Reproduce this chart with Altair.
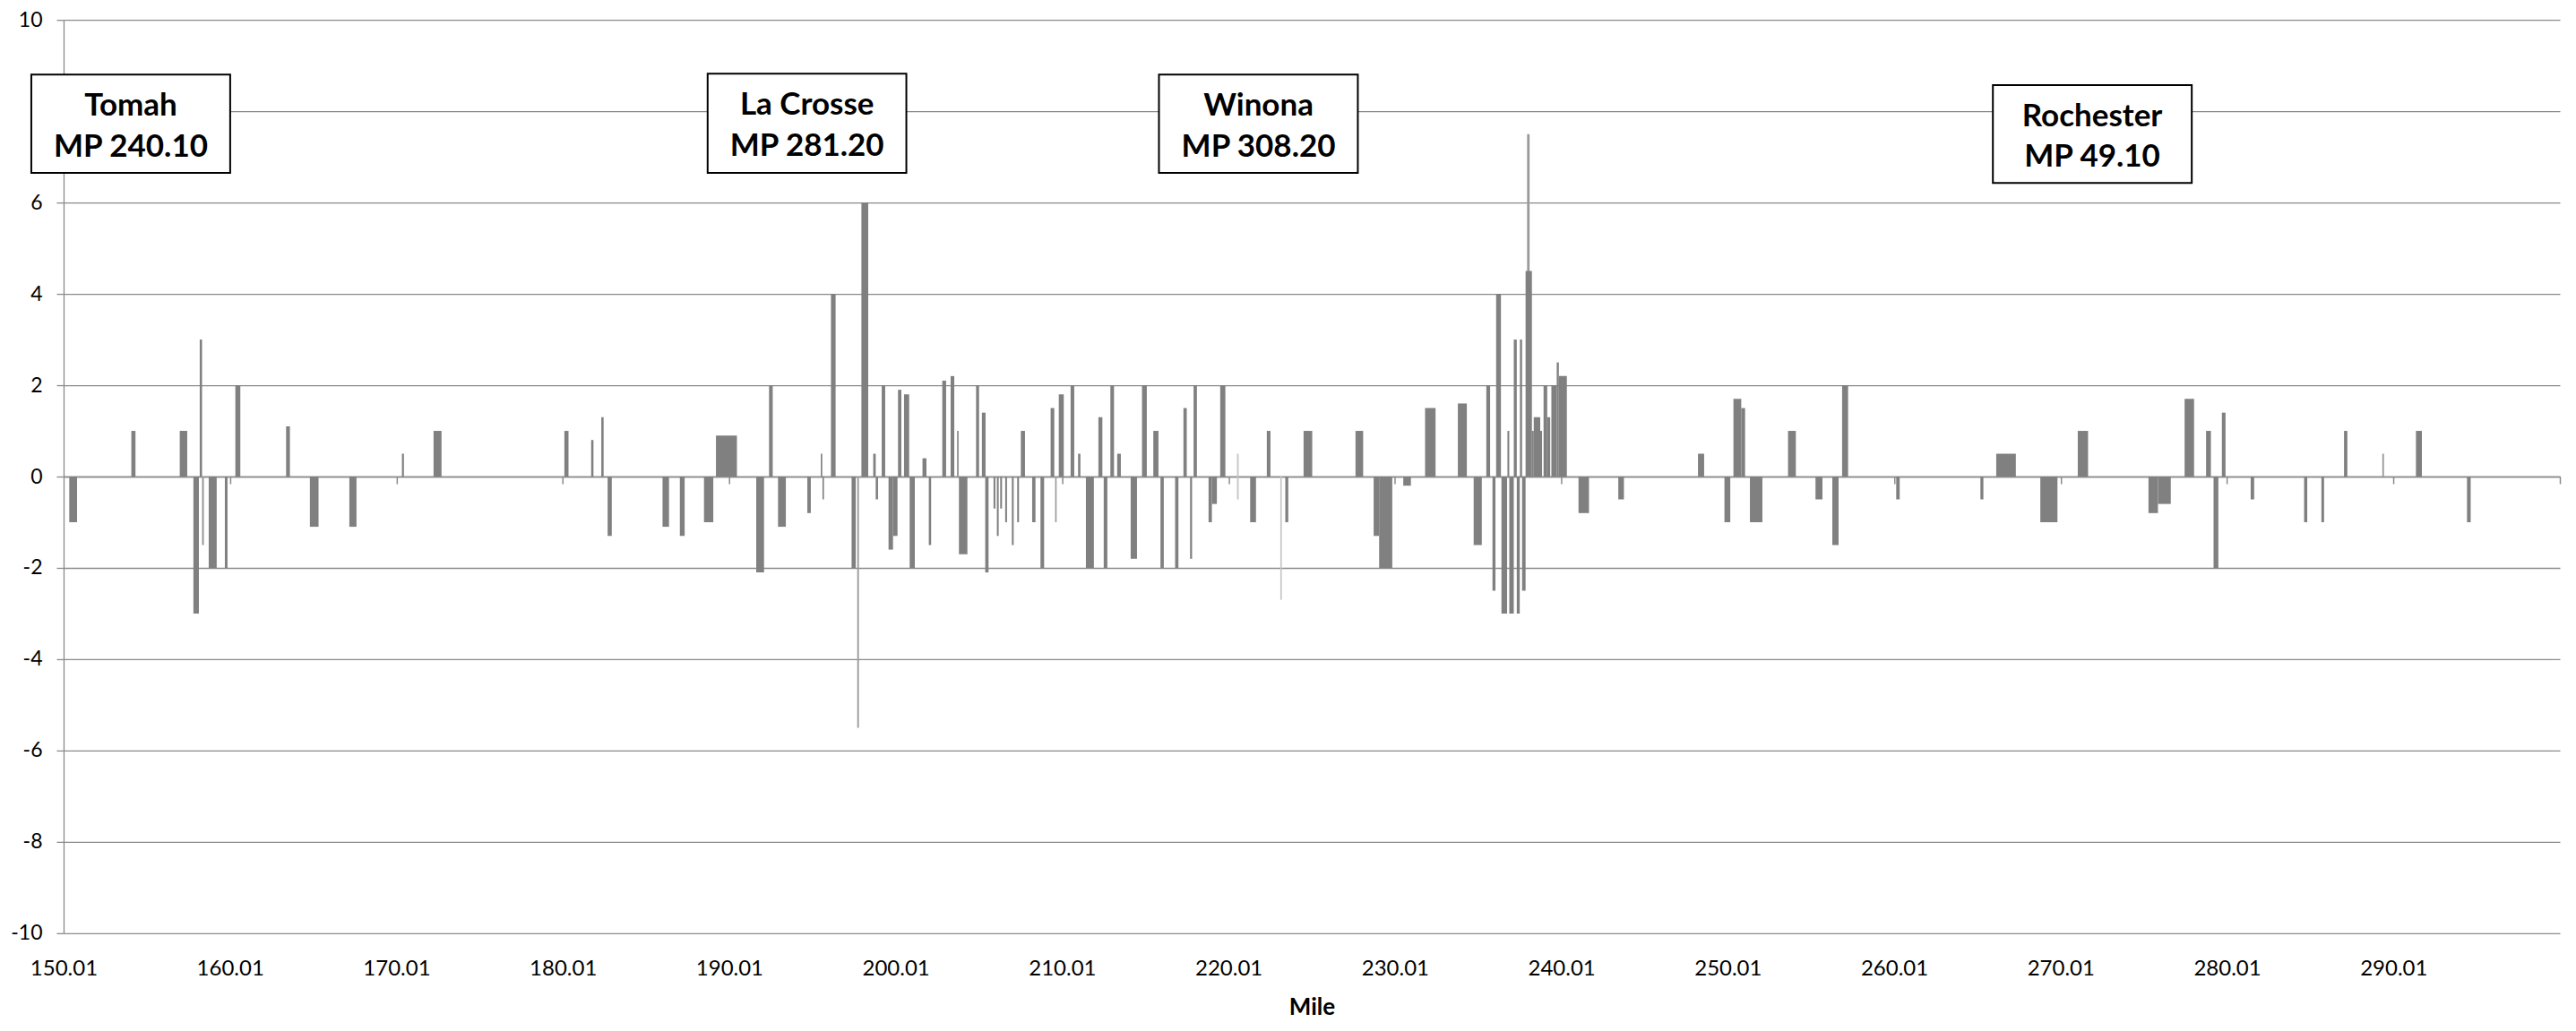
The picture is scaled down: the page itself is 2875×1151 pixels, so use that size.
import altair as alt
import pandas as pd

# ---- bar segments (mile start, mile end, deviation) ----
seg_start = [150.35, 154.08, 156.99, 157.81, 158.19, 158.33, 158.73, 159.70, 160.33, 163.38,
             164.81, 167.18, 170.34, 172.24, 180.10, 181.71, 182.32, 182.70, 186.00, 187.04,
             188.49, 189.21, 191.63, 192.40, 192.94, 194.70, 195.51, 195.61, 196.12, 197.36,
             197.70, 197.95, 198.66, 198.81, 199.17, 199.58, 199.85, 200.15, 200.51, 200.85,
             201.62, 202.00, 202.81, 203.31, 203.69, 203.81, 204.84, 205.19, 205.39, 205.89,
             206.09, 206.29, 206.59, 206.99, 207.31, 207.53, 208.21, 208.71, 209.32, 209.59,
             209.81, 210.52, 210.97, 211.44, 212.19, 212.51, 212.91, 213.32, 214.13, 214.81,
             215.49, 215.92, 216.80, 217.30, 217.70, 217.91, 218.81, 219.01, 219.51, 220.52,
             220.52, 221.31, 222.31, 223.12, 223.42, 224.52, 227.64, 228.73, 229.06, 230.51,
             231.82, 233.79, 234.74, 235.50, 235.87, 236.09, 236.41, 236.77, 236.88, 237.15,
             237.33, 237.52, 237.65, 237.86, 237.95, 238.24, 238.35, 238.74, 238.94, 239.16,
             239.41, 239.73, 239.86, 241.04, 243.43, 248.22, 249.81, 250.35, 250.82, 251.34,
             253.63, 255.28, 256.29, 256.88, 260.13, 265.19, 266.14, 268.79, 271.04, 275.29,
             275.86, 277.46, 278.75, 279.20, 279.70, 281.43, 284.64, 285.68, 287.04, 289.34,
             291.36, 294.43]
seg_end = [150.82, 154.33, 157.44, 158.14, 158.33, 158.44, 159.21, 159.86, 160.63, 163.61,
           165.33, 167.61, 170.46, 172.72, 180.35, 181.85, 182.46, 182.95, 186.39, 187.33,
           189.05, 190.47, 192.10, 192.62, 193.41, 194.91, 195.60, 195.70, 196.40, 197.61,
           197.80, 198.36, 198.81, 198.95, 199.38, 199.85, 200.12, 200.35, 200.82, 201.16,
           201.86, 202.14, 203.04, 203.53, 203.80, 204.32, 205.02, 205.41, 205.59, 206.00,
           206.20, 206.40, 206.70, 207.10, 207.42, 207.78, 208.41, 208.93, 209.54, 209.68,
           210.11, 210.74, 211.11, 211.92, 212.43, 212.73, 213.13, 213.54, 214.51, 215.10,
           215.80, 216.12, 217.00, 217.50, 217.82, 218.11, 219.01, 219.31, 219.82, 220.62,
           220.62, 221.66, 222.53, 223.21, 223.60, 225.04, 228.10, 229.06, 229.85, 230.97,
           232.45, 234.33, 235.23, 235.73, 236.05, 236.38, 236.75, 236.88, 237.15, 237.33,
           237.51, 237.65, 237.86, 238.24, 238.10, 238.35, 238.74, 238.85, 239.16, 239.34,
           239.73, 239.86, 240.34, 241.67, 243.77, 248.59, 250.16, 250.82, 251.05, 252.09,
           254.10, 255.70, 256.67, 257.24, 260.34, 265.37, 267.32, 269.82, 271.66, 275.86,
           276.63, 278.03, 279.04, 279.49, 279.92, 281.64, 284.83, 285.84, 287.24, 289.44,
           291.72, 294.65]
seg_value = [-1.0, 1.0, 1.0, -3.0, 3.0, -1.5, -2.0, -2.0, 2.0, 1.1,
             -1.1, -1.1, 0.5, 1.0, 1.0, 0.8, 1.3, -1.3, -1.1, -1.3,
             -1.0, 0.9, -2.1, 2.0, -1.1, -0.8, 0.5, -0.5, 4.0, -2.0,
             -5.5, 6.0, 0.5, -0.5, 2.0, -1.6, -1.3, 1.9, 1.8, -2.0,
             0.4, -1.5, 2.1, 2.2, 1.0, -1.7, 2.0, 1.4, -2.1, -0.7,
             -1.3, -0.7, -1.0, -1.5, -1.0, 1.0, -1.0, -2.0, 1.5, -1.0,
             1.8, 2.0, 0.5, -2.0, 1.3, -2.0, 2.0, 0.5, -1.8, 2.0,
             1.0, -2.0, -2.0, 1.5, -1.8, 2.0, -1.0, -0.6, 2.0, 0.5,
             -0.5, -1.0, 1.0, -2.7, -1.0, 1.0, 1.0, -1.3, -2.0, -0.2,
             1.5, 1.6, -1.5, 2.0, -2.5, 4.0, -3.0, 1.0, -3.0, 3.0,
             -3.0, 3.0, -2.5, 4.5, 7.5, 1.0, 1.3, 1.0, 2.0, 1.3,
             2.0, 2.5, 2.2, -0.8, -0.5, 0.5, -1.0, 1.7, 1.5, -1.0,
             1.0, -0.5, -1.5, 2.0, -0.5, -0.5, 0.5, -1.0, 1.0, -0.8,
             -0.6, 1.7, 1.0, -2.0, 1.4, -0.5, -1.0, -1.0, 1.0, 0.5,
             1.0, -1.0]
seg_tone = ["d", "d", "d", "d", "d", "m", "d", "d", "d", "d",
            "d", "d", "d", "d", "d", "d", "d", "d", "d", "d",
            "d", "d", "d", "d", "d", "d", "d", "d", "d", "d",
            "m", "d", "d", "d", "d", "d", "d", "d", "d", "d",
            "d", "d", "d", "d", "m", "d", "d", "d", "d", "d",
            "d", "d", "d", "d", "d", "d", "d", "d", "d", "m",
            "d", "d", "d", "d", "d", "d", "d", "d", "d", "d",
            "d", "d", "d", "d", "d", "d", "d", "d", "d", "l",
            "l", "d", "d", "l", "d", "d", "d", "d", "d", "d",
            "d", "d", "d", "d", "d", "d", "d", "d", "d", "d",
            "d", "d", "d", "d", "m", "d", "d", "d", "d", "d",
            "d", "d", "d", "d", "d", "d", "d", "d", "d", "d",
            "d", "d", "d", "d", "d", "d", "d", "d", "d", "d",
            "d", "d", "d", "d", "d", "d", "d", "d", "d", "m",
            "d", "d"]

# ---- axis tick labels ----
x_tick_values = [150.01, 160.01, 170.01, 180.01, 190.01, 200.01, 210.01, 220.01,
                 230.01, 240.01, 250.01, 260.01, 270.01, 280.01, 290.01]
x_zero_ticks = [160.01, 170.01, 180.01, 190.01, 200.01, 210.01, 220.01, 230.01,
                240.01, 250.01, 260.01, 270.01, 280.01, 290.01, 300.01]
y_tick_values = [-10, -8, -6, -4, -2, 0, 2, 4, 6, 8, 10]

# ---- station call-outs ----
ann_name = ["Tomah", "La Crosse", "Winona", "Rochester"]
ann_mp = ["MP 240.10", "MP 281.20", "MP 308.20", "MP 49.10"]
ann_left = [148.07, 188.71, 215.83, 265.94]
ann_right = [160.02, 200.65, 227.78, 277.89]
ann_center = [154.05, 194.68, 221.81, 271.91]
ann_top = [8.80, 8.82, 8.80, 8.57]
ann_bottom = [6.65, 6.65, 6.65, 6.43]
ann_line1 = [8.13, 8.14, 8.13, 7.89]
ann_line2 = [7.21, 7.23, 7.21, 7.00]

tone_order = {"l": 0, "m": 1, "d": 2}
bars = pd.DataFrame({"start": seg_start, "end": seg_end, "value": seg_value, "tone": seg_tone})
bars["ord"] = bars["tone"].map(tone_order)
bars = bars.sort_values("ord", kind="stable").reset_index(drop=True)

ann = pd.DataFrame({"name": ann_name, "mp": ann_mp, "left": ann_left, "right": ann_right,
                    "center": ann_center, "top": ann_top, "bottom": ann_bottom,
                    "line1": ann_line1, "line2": ann_line2})

GRID = "#8a8a8a"
FONT = "Lato"
W, H = 2787, 1020

xscale = alt.Scale(domain=[150.01, 300.01], nice=False, zero=False)
yscale = alt.Scale(domain=[-10, 10], nice=False)

y_axis = alt.Axis(values=y_tick_values, grid=True, gridColor=GRID, gridWidth=1.3,
                  domain=True, domainColor=GRID, domainWidth=1.3, ticks=True,
                  tickColor=GRID, tickSize=8, tickWidth=1.3, labelPadding=16,
                  labelFont=FONT, labelFontSize=23, labelColor="black",
                  labelExpr="'' + datum.value",
                  labelFlush=False, labelOverlap=False, title=None, zindex=0)

bar_layer = alt.Chart(bars).mark_rect().encode(
    x=alt.X("start:Q", scale=xscale,
            axis=alt.Axis(values=x_tick_values, format=".2f", grid=False, domain=False,
                          ticks=False, tickSize=0, labelPadding=28, labelFont=FONT,
                          labelFontSize=24, labelColor="black", labelFlush=False,
                          labelOverlap=False, title="Mile", titleFont=FONT,
                          titleFontSize=26, titleFontWeight="bold", titleColor="black",
                          titlePadding=18, orient="bottom", zindex=0)),
    x2="end:Q",
    y=alt.Y("value:Q", scale=yscale, axis=y_axis, title=None),
    y2=alt.datum(0),
    color=alt.Color("tone:N", scale=alt.Scale(domain=["d", "m", "l"],
                                              range=["#808080", "#9a9a9a", "#c4c4c4"]),
                    legend=None),
    order=alt.Order("ord:Q"),
)

zero_axis_layer = alt.Chart(bars).mark_point(opacity=0).encode(
    x=alt.X("start:Q", scale=xscale,
            axis=alt.Axis(values=x_zero_ticks, orient="bottom", offset=-510, labels=False,
                          grid=False, domain=True, domainColor=GRID, domainWidth=1.3,
                          ticks=True, tickColor=GRID, tickSize=8, tickWidth=1.5,
                          title=None, zindex=0)),
    y=alt.Y("value:Q", scale=yscale, axis=y_axis, title=None),
)

box_layer = alt.Chart(ann).mark_rect(fill="white", stroke="black", strokeWidth=2).encode(
    x=alt.X("left:Q", scale=xscale, axis=None),
    x2="right:Q",
    y=alt.Y("top:Q", scale=yscale, axis=y_axis, title=None),
    y2="bottom:Q",
)

text1 = alt.Chart(ann).mark_text(font=FONT, fontSize=35, fontWeight="bold", color="black",
                                 align="center", baseline="middle").encode(
    x=alt.X("center:Q", scale=xscale, axis=None),
    y=alt.Y("line1:Q", scale=yscale, axis=y_axis, title=None),
    text="name:N",
)
text2 = alt.Chart(ann).mark_text(font=FONT, fontSize=35, fontWeight="bold", color="black",
                                 align="center", baseline="middle").encode(
    x=alt.X("center:Q", scale=xscale, axis=None),
    y=alt.Y("line2:Q", scale=yscale, axis=y_axis, title=None),
    text="mp:N",
)

chart = alt.layer(bar_layer, zero_axis_layer, box_layer, text1, text2).resolve_axis(
    x="independent", y="shared"
).properties(
    width=W, height=H,
    autosize=alt.AutoSizeParams(type="none"),
    padding={"left": 63, "top": 14, "right": 10, "bottom": 101},
    background="white",
).configure_view(strokeWidth=0)

chart.save("out.html", embed_options={"renderer": "svg", "actions": False})
